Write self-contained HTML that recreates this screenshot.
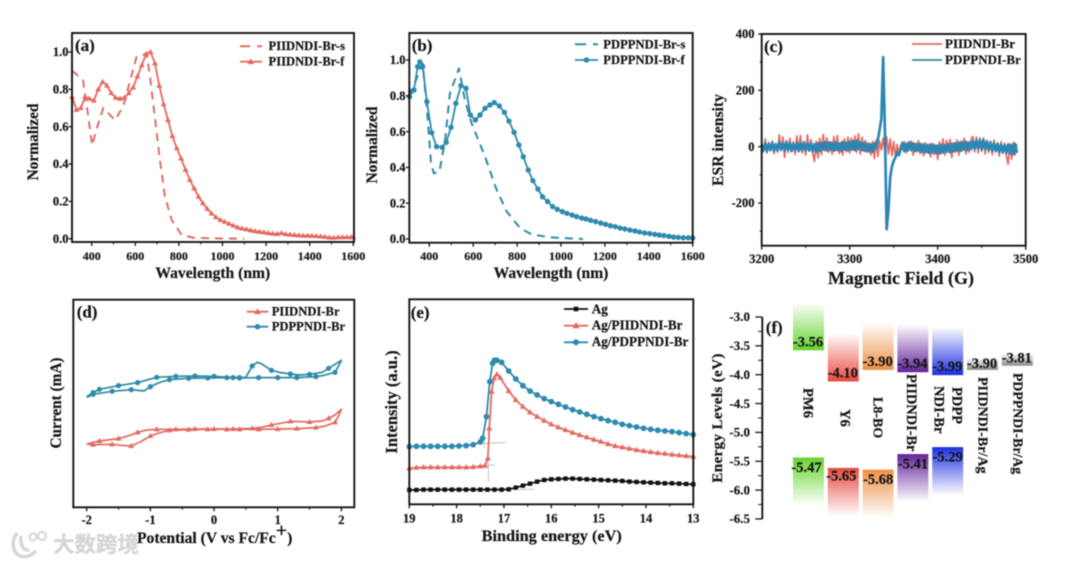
<!DOCTYPE html>
<html lang="en">
<head>
<meta charset="utf-8">
<title>Polymer characterization panels</title>
<style>
html,body{margin:0;padding:0;background:#fff;}
svg{display:block;filter:blur(0.5px);}
text{font-family:"Liberation Serif","Noto Serif CJK SC",serif;font-weight:bold;fill:#161616;stroke:#161616;stroke-width:0.2;}
.wm{font-family:"Liberation Sans","Noto Sans CJK SC",sans-serif;font-weight:bold;fill:#d6d6d6;stroke:#d6d6d6;stroke-width:0.4;}
</style>
</head>
<body>
<svg id="figure" xmlns="http://www.w3.org/2000/svg" width="1080" height="566" viewBox="0 0 1080 566">
<defs>
<linearGradient id="up-green" x1="0" y1="1" x2="0" y2="0"><stop offset="0" stop-color="#66d42e"/><stop offset="1" stop-color="#66d42e" stop-opacity="0"/></linearGradient>
<linearGradient id="up-red" x1="0" y1="1" x2="0" y2="0"><stop offset="0" stop-color="#e8493f"/><stop offset="1" stop-color="#e8493f" stop-opacity="0"/></linearGradient>
<linearGradient id="up-orange" x1="0" y1="1" x2="0" y2="0"><stop offset="0" stop-color="#ee9147"/><stop offset="1" stop-color="#ee9147" stop-opacity="0"/></linearGradient>
<linearGradient id="up-purple" x1="0" y1="1" x2="0" y2="0"><stop offset="0" stop-color="#63229a"/><stop offset="1" stop-color="#63229a" stop-opacity="0"/></linearGradient>
<linearGradient id="up-blue" x1="0" y1="1" x2="0" y2="0"><stop offset="0" stop-color="#1c2fe0"/><stop offset="1" stop-color="#1c2fe0" stop-opacity="0"/></linearGradient>
<linearGradient id="up-gray" x1="0" y1="1" x2="0" y2="0"><stop offset="0" stop-color="#8a8a8a"/><stop offset="1" stop-color="#8a8a8a" stop-opacity="0"/></linearGradient>
<linearGradient id="down-green" x1="0" y1="0" x2="0" y2="1"><stop offset="0" stop-color="#66d42e"/><stop offset="1" stop-color="#66d42e" stop-opacity="0"/></linearGradient>
<linearGradient id="down-red" x1="0" y1="0" x2="0" y2="1"><stop offset="0" stop-color="#e8493f"/><stop offset="1" stop-color="#e8493f" stop-opacity="0"/></linearGradient>
<linearGradient id="down-orange" x1="0" y1="0" x2="0" y2="1"><stop offset="0" stop-color="#ee9147"/><stop offset="1" stop-color="#ee9147" stop-opacity="0"/></linearGradient>
<linearGradient id="down-purple" x1="0" y1="0" x2="0" y2="1"><stop offset="0" stop-color="#63229a"/><stop offset="1" stop-color="#63229a" stop-opacity="0"/></linearGradient>
<linearGradient id="down-blue" x1="0" y1="0" x2="0" y2="1"><stop offset="0" stop-color="#1c2fe0"/><stop offset="1" stop-color="#1c2fe0" stop-opacity="0"/></linearGradient>
</defs>

<g id="marks"></g>

<g fill="none" stroke="#151515" stroke-width="1.9">
  <rect x="72" y="33" width="282" height="209"/>
  <rect x="409.3" y="33" width="283.4" height="209.7"/>
  <rect x="761.7" y="34" width="264" height="211.7"/>
  <rect x="73.3" y="299.7" width="281" height="207.6"/>
  <rect x="409.3" y="299.3" width="284" height="205"/>
</g>

<g font-size="17">
  <text x="75" y="51">(a)</text>
  <text x="411.7" y="51">(b)</text>
  <text x="764" y="52">(c)</text>
  <text x="76.7" y="317.7">(d)</text>
  <text x="410.7" y="318">(e)</text>
  <text x="765.7" y="333">(f)</text>
</g>

<g>
  <text x="212.8" y="278" font-size="15.6" text-anchor="middle">Wavelength (nm)</text>
  <text transform="translate(38,142) rotate(-90)" font-size="15.4" text-anchor="middle">Normalized</text>
  <text x="551" y="278" font-size="15.6" text-anchor="middle">Wavelength (nm)</text>
  <text transform="translate(377,145) rotate(-90)" font-size="15.4" text-anchor="middle">Normalized</text>
  <text x="901" y="284" font-size="18" text-anchor="middle">Magnetic Field (G)</text>
  <text transform="translate(723,140) rotate(-90)" font-size="15.7" text-anchor="middle">ESR intensity</text>
  <text x="137" y="543" font-size="15.6">Potential (V vs Fc/Fc<tspan font-size="20" dy="-6">+</tspan><tspan dy="6">)</tspan></text>
  <text transform="translate(61,403) rotate(-90)" font-size="15.3" text-anchor="middle">Current (mA)</text>
  <text x="551.7" y="541" font-size="16.3" text-anchor="middle">Binding energy (eV)</text>
  <text transform="translate(397,402) rotate(-90)" font-size="16.5" text-anchor="middle">Intensity (a.u.)</text>
  <text transform="translate(722,418) rotate(-90)" font-size="15.2" letter-spacing="0.3" text-anchor="middle">Energy Levels (eV)</text>
</g>

<g font-size="12.6">
  <path d="M240 46.3H250M257 46.3H262" stroke="#dc6f69" stroke-width="2" fill="none"/>
  <text x="268.5" y="50">PIIDNDI-Br-s</text>
  <line x1="240" y1="61.7" x2="262" y2="61.7" stroke="#e46a60" stroke-width="1.8"/>
  <path d="M250.7 58.2l3.4 5.9h-6.8z" fill="#e46a60"/>
  <text x="268.5" y="65.7">PIIDNDI-Br-f</text>
</g>
<g font-size="12.6">
  <path d="M575 44.3H586M593 44.3H598" stroke="#2f8aa6" stroke-width="2" fill="none"/>
  <text x="603.3" y="48.3">PDPPNDI-Br-s</text>
  <line x1="575" y1="60" x2="598" y2="60" stroke="#2f8ab0" stroke-width="1.8"/>
  <circle cx="586.5" cy="60" r="2.8" fill="#2f8ab0"/>
  <text x="603.3" y="63.8">PDPPNDI-Br-f</text>
</g>
<g font-size="13">
  <line x1="912" y1="44" x2="942" y2="44" stroke="#e46a60" stroke-width="1.8"/>
  <text x="945" y="48">PIIDNDI-Br</text>
  <line x1="912" y1="60" x2="942" y2="60" stroke="#2f8aa6" stroke-width="1.8"/>
  <text x="945" y="64">PDPPNDI-Br</text>
</g>
<g font-size="12.6">
  <line x1="246.7" y1="311.7" x2="268.3" y2="311.7" stroke="#e46a60" stroke-width="1.8"/>
  <path d="M257.5 308.2l3.4 5.9h-6.8z" fill="#e46a60"/>
  <text x="271.7" y="315.5">PIIDNDI-Br</text>
  <line x1="246.7" y1="326.7" x2="268.3" y2="326.7" stroke="#2f8ab0" stroke-width="1.8"/>
  <circle cx="257.5" cy="326.7" r="2.7" fill="#2f8ab0"/>
  <text x="271.7" y="330.5">PDPPNDI-Br</text>
</g>
<g font-size="13.2">
  <line x1="564" y1="309" x2="588" y2="309" stroke="#111" stroke-width="1.8"/>
  <rect x="573.7" y="306.7" width="4.6" height="4.6" fill="#111"/>
  <text x="591.7" y="313.3">Ag</text>
  <line x1="564" y1="325.7" x2="588" y2="325.7" stroke="#e46a60" stroke-width="1.8"/>
  <path d="M576 322l3.6 6.2h-7.2z" fill="#e46a60"/>
  <text x="591.7" y="329.5">Ag/PIIDNDI-Br</text>
  <line x1="564" y1="342.3" x2="588" y2="342.3" stroke="#2f8ab0" stroke-width="1.8"/>
  <circle cx="576" cy="342.3" r="3" fill="#2f8ab0"/>
  <text x="591.7" y="346">Ag/PDPPNDI-Br</text>
</g>

<g stroke="#9a9a9a" stroke-width="0.7" fill="none" opacity="0.8">
  <line x1="483" y1="443.5" x2="506" y2="442.5"/>
  <line x1="484" y1="438" x2="484.5" y2="448"/>
  <line x1="485" y1="465.5" x2="495" y2="465"/>
  <line x1="488" y1="447" x2="488.5" y2="482"/>
  <line x1="517" y1="489.5" x2="534" y2="489.5"/>
</g>

<g>
  <path d="M17 533C11 541 12 552 20 556C26 558 32 555 36 551M21 536C20 544 23 551 29 550" fill="none" stroke="#d8d8d8" stroke-width="3.6"/>
  <circle cx="33" cy="537" r="3.5" fill="none" stroke="#d8d8d8" stroke-width="2.2"/>
  <circle cx="42" cy="536" r="4" fill="none" stroke="#d8d8d8" stroke-width="2.2"/>
  <text class="wm" x="53" y="552" font-size="21.5">大数跨境</text>
</g>

<script>
/* ---------- panel (a) ---------- */
const aFilmWavelength = [310,330,350,370,390,410,430,450,470,490,510,530,550,570,590,610,630,650,670,690,710,730,750,770,790,810,830,850,870,890,910,930,950,970,990,1010,1030,1050,1070,1090,1110,1130,1150,1170,1190,1210,1230,1250,1270,1290,1310,1330,1350,1370,1390,1410,1430,1450,1470,1490,1510,1530,1550,1570,1590,1600];
const aFilmNormalized = [0.76,0.69,0.70,0.76,0.75,0.74,0.80,0.84,0.82,0.78,0.755,0.75,0.755,0.78,0.81,0.87,0.93,0.99,1.0,0.94,0.82,0.72,0.635,0.55,0.485,0.43,0.37,0.315,0.27,0.225,0.19,0.16,0.135,0.115,0.10,0.09,0.08,0.07,0.06,0.055,0.05,0.045,0.04,0.037,0.034,0.03,0.027,0.025,0.03,0.024,0.022,0.02,0.018,0.016,0.016,0.015,0.014,0.012,0.01,0.006,0.005,0.007,0.008,0.008,0.008,0.008];
const aSolutionWavelength = [310,360,380,402,423,453,507,545,606,652,667,690,713,736,767,813,867,950,1100];
const aSolutionNormalized = [0.90,0.85,0.69,0.50,0.59,0.70,0.635,0.71,0.975,0.99,0.87,0.65,0.42,0.225,0.10,0.02,0.005,0.002,0];
const aXTicks = [400,600,800,1000,1200,1400,1600];
const aYTicks = [0,0.2,0.4,0.6,0.8,1.0];
const aYTickLabels = ['0.0','0.2','0.4','0.6','0.8','1.0'];

/* ---------- panel (b) ---------- */
const bFilmWavelength = [310,316,330,347,357,370,389,411,433,459,477,499,521,544,567,587,610,631,654,676,696,719,742,763,786,808,828,851,872,895,916,939,962,983,1006,1027,1050,1071,1094,1114,1135,1158,1181,1203,1225,1247,1269,1291,1314,1337,1358,1381,1404,1427,1448,1469,1492,1513,1534,1557,1580,1600];
const bFilmNormalized = [0.795,0.823,0.832,0.963,0.99,0.963,0.767,0.594,0.516,0.512,0.54,0.624,0.758,0.857,0.842,0.693,0.665,0.693,0.73,0.749,0.762,0.743,0.708,0.659,0.596,0.525,0.46,0.385,0.326,0.279,0.236,0.209,0.181,0.166,0.153,0.143,0.134,0.125,0.117,0.112,0.104,0.097,0.089,0.082,0.074,0.069,0.061,0.056,0.05,0.045,0.039,0.034,0.03,0.026,0.022,0.019,0.015,0.011,0.009,0.007,0.007,0.006];
const bSolutionWavelength = [310,370,391,408,421,446,472,494,535,562,593,654,707,753,814,866,950,1100];
const bSolutionNormalized = [0.80,0.98,0.70,0.42,0.367,0.376,0.553,0.814,0.953,0.777,0.646,0.46,0.274,0.153,0.06,0.026,0.009,0];
const bXTicks = [400,600,800,1000,1200,1400,1600];
const bYTicks = [0,0.2,0.4,0.6,0.8,1.0];
const bYTickLabels = ['0.0','0.2','0.4','0.6','0.8','1.0'];

/* ---------- panel (c): both traces sampled every 2 G from 3200 G ---------- */
const cFieldStart = 3200;
const cFieldStep = 2;
const cPiidndi = [
12,-18,28,-22,16,-14,20,-25,10,-20,
42,-15,35,-38,22,-20,30,-12,18,-28,
38,-18,40,-22,15,-30,42,-16,25,-24,
-52,20,-40,30,-28,44,-15,32,-20,18,
-26,36,-14,40,-24,16,-30,28,-18,34,
-22,30,-12,38,-20,46,-26,34,-16,22,
-20,14,-30,18,-42,24,-35,20,-12,30,
-15,35,-25,28,-32,18,-38,8,-28,5,
-10,18,-22,16,-8,20,-30,12,-18,22,
-25,10,-32,14,-20,8,-36,12,-28,6,
-45,18,-24,28,-30,22,-16,26,-38,14,
-20,24,-30,20,-14,30,-26,16,-20,28,
36,-18,34,-22,32,-16,30,-26,24,-20,
20,-28,24,-18,14,-34,18,-24,12,-30,
-62,10,-44,16,-30,8];
const cPdppndi = [
8,-14,12,-16,10,-12,14,-15,9,-13,
15,-10,12,-14,16,-11,13,-16,10,-12,
14,-15,11,-13,16,-12,10,-14,13,-17,
9,-18,12,-15,14,-10,16,-13,15,-11,
13,-14,16,-12,11,-15,17,-10,14,-13,
18,-10,20,-12,22,-8,16,-12,14,-15,
10,-16,8,-18,12,-6,25,60,100,318,
60,-293,-225,-110,-70,-50,-38,-20,-30,-8,
14,-16,10,-14,15,-12,12,-16,9,-14,
10,-18,8,-20,6,-22,8,-20,5,-22,
4,-24,7,-20,6,-18,9,-20,10,-16,
12,-14,14,-15,16,-10,18,-12,15,-8,
20,-8,24,-6,22,-10,25,-8,18,-12,
15,-14,12,-16,10,-18,8,-20,6,-22,
8,-24,6,-26,10,-22];
const cXTicks = [3200,3300,3400,3500];
const cYTicks = [-200,0,200,400];

/* ---------- panel (d) ---------- */
const dPdppndiPotential = [-2,-1.9,-1.8,-1.5,-1.2,-1.05,-0.9,-0.6,-0.3,0,0.3,0.4,0.5,0.55,0.6,0.68,0.75,0.9,1.05,1.2,1.35,1.5,1.7,1.8,1.9,2,1.95,1.9,1.75,1.6,1.3,1,0.7,0.4,0.2,-0.1,-0.4,-0.7,-0.85,-1,-1.1,-1.3,-1.6,-1.9,-2];
const dPdppndiCurrent = [3.32,3.44,3.54,3.65,3.74,3.82,3.90,3.93,3.94,3.93,3.89,3.89,3.90,4.07,4.24,4.35,4.30,4.11,4.04,4.00,3.97,3.99,4.05,4.17,4.29,4.41,4.22,4.05,3.97,3.92,3.89,3.89,3.89,3.88,3.89,3.88,3.87,3.83,3.75,3.62,3.49,3.53,3.48,3.39,3.30];
const dPdppndiMarkerIndex = [1,2,3,4,6,7,8,9,10,11,14,17,19,21,23,27,29,30,31,32,33,34,35,36,37,39,41,42,43];
const dPiidndiPotential = [-2,-1.8,-1.5,-1.3,-1.2,-1.05,-0.9,-0.6,-0.3,0,0.3,0.6,0.75,0.9,1.05,1.2,1.5,1.7,1.8,1.9,2,1.95,1.9,1.75,1.6,1.3,1,0.7,0.4,0.2,-0.1,-0.4,-0.7,-0.85,-1,-1.15,-1.3,-1.45,-1.6,-1.9,-2];
const dPiidndiCurrent = [1.90,1.99,2.06,2.17,2.25,2.32,2.34,2.34,2.35,2.35,2.35,2.37,2.40,2.47,2.52,2.58,2.56,2.59,2.67,2.77,2.94,2.72,2.55,2.44,2.39,2.36,2.35,2.34,2.34,2.34,2.34,2.33,2.31,2.24,2.14,1.97,1.84,1.86,1.89,1.88,1.90];
const dPiidndiMarkerIndex = [1,2,4,6,7,8,9,10,11,13,15,16,18,22,24,25,26,27,28,29,30,31,32,34,36,38,39];
const dXTicks = [-2,-1,0,1,2];

/* ---------- panel (e) ---------- */
const eAgEnergy = [19,18.85,18.7,18.55,18.4,18.25,18.1,17.95,17.8,17.65,17.5,17.35,17.2,17.05,16.9,16.75,16.6,16.45,16.3,16.15,16,15.85,15.7,15.55,15.4,15.25,15.1,14.95,14.8,14.65,14.5,14.35,14.2,14.05,13.9,13.75,13.6,13.45,13.3,13.15,13];
const eAgIntensity = [0.43,0.43,0.44,0.44,0.44,0.44,0.44,0.44,0.44,0.44,0.44,0.44,0.44,0.44,0.45,0.50,0.56,0.62,0.68,0.73,0.75,0.76,0.77,0.77,0.76,0.75,0.74,0.73,0.72,0.71,0.70,0.68,0.67,0.66,0.65,0.64,0.63,0.63,0.62,0.61,0.60];
const ePiidndiEnergy = [19,18.85,18.7,18.55,18.4,18.25,18.1,17.95,17.8,17.65,17.5,17.4,17.34,17.31,17.26,17.21,17.15,17.08,16.9,16.75,16.6,16.45,16.3,16.15,16,15.85,15.7,15.55,15.4,15.25,15.1,14.95,14.8,14.65,14.5,14.35,14.2,14.05,13.9,13.75,13.6,13.45,13.3,13.15,13];
const ePiidndiIntensity = [1.08,1.10,1.11,1.11,1.11,1.11,1.11,1.11,1.11,1.12,1.14,1.16,1.38,2.28,3.38,3.78,3.90,3.80,3.40,3.13,2.93,2.76,2.63,2.51,2.40,2.31,2.23,2.15,2.08,2.01,1.94,1.88,1.81,1.75,1.71,1.67,1.63,1.60,1.57,1.54,1.52,1.49,1.47,1.45,1.43];
const ePdppndiEnergy = [19,18.85,18.7,18.55,18.4,18.25,18.1,17.95,17.8,17.65,17.5,17.45,17.37,17.3,17.24,17.2,17.15,17.05,16.9,16.75,16.6,16.45,16.3,16.15,16,15.85,15.7,15.55,15.4,15.25,15.1,14.95,14.8,14.65,14.5,14.35,14.2,14.05,13.9,13.75,13.6,13.45,13.3,13.15,13];
const ePdppndiIntensity = [1.73,1.74,1.74,1.74,1.74,1.74,1.74,1.75,1.76,1.79,1.87,1.98,2.63,3.68,4.23,4.32,4.32,4.26,4.00,3.76,3.56,3.40,3.28,3.17,3.08,3.00,2.92,2.84,2.77,2.70,2.63,2.57,2.51,2.46,2.40,2.36,2.32,2.28,2.25,2.22,2.20,2.18,2.15,2.12,2.09];
const eXTicks = [19,18,17,16,15,14,13];

/* ---------- panel (f) ---------- */
const fLumoMaterials = ['PM6','Y6','L8-BO','PIIDNDI-Br','PDPPNDI-Br','PIIDNDI-Br/Ag','PDPPNDI-Br/Ag'];
const fLumoLevels = [-3.56,-4.10,-3.90,-3.94,-3.99,-3.90,-3.81];
const fHomoMaterials = ['PM6','Y6','L8-BO','PIIDNDI-Br','PDPPNDI-Br'];
const fHomoLevels = [-5.47,-5.65,-5.68,-5.41,-5.29];
const fYTicks = [-3.0,-3.5,-4.0,-4.5,-5.0,-5.5,-6.0,-6.5];
const fColorNames = ['green','red','orange','purple','blue','gray','gray'];

/* ---------- axis functions ---------- */
const aX = v => 91.7 + (v - 400) * 0.218;
const aY = v => 238.7 - v * 186.7;
const bX = v => 429.3 + (v - 400) * 0.2195;
const bY = v => 239 - v * 179;
const cX = v => 761.7 + (v - 3200) * 0.88;
const cY = v => 146.7 - v * 0.2817;
const dX = v => 86.7 + (v + 2) * 63.67;
const dY = v => 507.3 - v * 33.33;
const eX = v => 409.3 + (19 - v) * 47.33;
const eY = v => 504.3 - v * 33.33;
const fY = v => 317 + (-3 - v) * 57.7;
const fBand = i => 793 + i * 34.8;
const fBandWidth = 31;
const fFadeHeight = 48;

const SVGNS = 'http://www.w3.org/2000/svg';
const root = document.getElementById('marks');
const RED = '#e46a60', BLUE = '#2f8ab0', DASH_RED = '#dc6f69', DASH_BLUE = '#2f8aa6';

function make(tag, attrs) {
  const el = document.createElementNS(SVGNS, tag);
  for (const k in attrs) el.setAttribute(k, attrs[k]);
  root.appendChild(el);
  return el;
}
function pathOf(xs, ys, sx, sy) {
  return xs.map((x, i) => (i ? 'L' : 'M') + sx(x).toFixed(2) + ' ' + sy(ys[i]).toFixed(2)).join('');
}
function drawLine(xs, ys, sx, sy, color, width, dash, name) {
  const el = make('path', {d: pathOf(xs, ys, sx, sy), fill: 'none', stroke: color, 'stroke-width': width, 'stroke-linejoin': 'round'});
  if (dash) el.setAttribute('stroke-dasharray', dash);
  
  
}
function drawMarker(kind, x, y, r, color, name) {
  let el;
  if (kind === 'circle') {
    el = make('circle', {cx: x, cy: y, r: r, fill: color});
  } else if (kind === 'square') {
    el = make('rect', {x: x - r, y: y - r, width: 2 * r, height: 2 * r, fill: color});
  } else {
    el = make('path', {d: 'M' + x + ' ' + (y - r * 1.15) + 'l' + r * 1.1 + ' ' + r * 1.9 + 'h' + (-r * 2.2) + 'z', fill: color});
  }
  
  
}
function drawMarkers(xs, ys, sx, sy, kind, r, color, name) {
  xs.forEach((x, i) => drawMarker(kind, sx(x), sy(ys[i]), r, color, name));
}
function drawXAxis(ticks, labels, minors, sx, yAxis, yLabel, size) {
  ticks.forEach((t, i) => {
    const tick = make('line', {x1: sx(t), x2: sx(t), y1: yAxis, y2: yAxis + 4, stroke: '#151515', 'stroke-width': 1.3});
    
    
    const label = make('text', {x: sx(t), y: yLabel, 'font-size': size, 'text-anchor': 'middle'});
    label.textContent = labels ? labels[i] : String(t);
    
    
  });
  minors.forEach(t => {
    const tick = make('line', {x1: sx(t), x2: sx(t), y1: yAxis, y2: yAxis + 2.5, stroke: '#151515', 'stroke-width': 1});
    
    
  });
}
function drawYAxis(ticks, labels, minors, sy, xAxis, xLabel, size, len) {
  ticks.forEach((t, i) => {
    const tick = make('line', {x1: xAxis - len, x2: xAxis, y1: sy(t), y2: sy(t), stroke: '#151515', 'stroke-width': 1.3});
    
    
    const label = make('text', {x: xLabel, y: sy(t) + 4.2, 'font-size': size, 'text-anchor': 'end'});
    label.textContent = labels ? labels[i] : String(t);
    
    
  });
  minors.forEach(t => {
    const tick = make('line', {x1: xAxis - len * 0.6, x2: xAxis, y1: sy(t), y2: sy(t), stroke: '#151515', 'stroke-width': 1});
    
    
  });
}

/* panel a */
drawLine(aSolutionWavelength, aSolutionNormalized, aX, aY, DASH_RED, 2, '8 6', 'piidndi-solution-line');
drawLine(aFilmWavelength, aFilmNormalized, aX, aY, RED, 1.8, null, 'piidndi-film-line');
drawMarkers(aFilmWavelength, aFilmNormalized, aX, aY, 'triangle', 2.7, RED, 'piidndi-film-point');
drawXAxis(aXTicks, null, [500,700,900,1100,1300,1500], aX, 242, 260, 12);
drawYAxis(aYTicks, aYTickLabels, [], aY, 72, 68.5, 12.5, 3.5);

/* panel b */
drawLine(bSolutionWavelength, bSolutionNormalized, bX, bY, DASH_BLUE, 2, '8 6', 'pdppndi-solution-line');
drawLine(bFilmWavelength, bFilmNormalized, bX, bY, BLUE, 1.8, null, 'pdppndi-film-line');
drawMarkers(bFilmWavelength, bFilmNormalized, bX, bY, 'circle', 2.7, BLUE, 'pdppndi-film-point');
drawXAxis(bXTicks, null, [500,700,900,1100,1300,1500], bX, 242.7, 260, 12);
drawYAxis(bYTicks, bYTickLabels, [], bY, 409.3, 405.5, 12.5, 3.5);

/* panel c */
const cField = cPiidndi.map((_, i) => cFieldStart + i * cFieldStep);
drawLine(cField, cPiidndi, cX, cY, RED, 1.7, null, 'esr-piidndi-trace');
drawLine(cField, cPdppndi, cX, cY, '#2b86b4', 2.7, null, 'esr-pdppndi-trace');
drawXAxis(cXTicks, null, [3250,3350,3450], cX, 245.7, 263, 12.5);
drawYAxis(cYTicks, null, [-300,-100,100,300], cY, 761.7, 754.5, 12.5, 3.5);

/* panel d */
drawLine(dPdppndiPotential, dPdppndiCurrent, dX, dY, '#2f8aa0', 1.7, null, 'cv-pdppndi-loop');
dPdppndiMarkerIndex.forEach(i => drawMarker('circle', dX(dPdppndiPotential[i]), dY(dPdppndiCurrent[i]), 2.6, BLUE, 'cv-pdppndi-point'));
drawLine(dPiidndiPotential, dPiidndiCurrent, dX, dY, RED, 1.7, null, 'cv-piidndi-loop');
dPiidndiMarkerIndex.forEach(i => drawMarker('triangle', dX(dPiidndiPotential[i]), dY(dPiidndiCurrent[i]), 2.7, RED, 'cv-piidndi-point'));
drawXAxis(dXTicks, null, [-1.5,-0.5,0.5,1.5], dX, 507.3, 524, 12.5);

/* panel e */
drawLine(eAgEnergy, eAgIntensity, eX, eY, '#111', 1.7, null, 'ups-ag-line');
drawMarkers(eAgEnergy, eAgIntensity, eX, eY, 'square', 2.2, '#111', 'ups-ag-point');
drawLine(ePiidndiEnergy, ePiidndiIntensity, eX, eY, RED, 1.8, null, 'ups-piidndi-line');
drawMarkers(ePiidndiEnergy, ePiidndiIntensity, eX, eY, 'triangle', 2.8, RED, 'ups-piidndi-point');
drawLine(ePdppndiEnergy, ePdppndiIntensity, eX, eY, BLUE, 1.8, null, 'ups-pdppndi-line');
drawMarkers(ePdppndiEnergy, ePdppndiIntensity, eX, eY, 'circle', 2.9, BLUE, 'ups-pdppndi-point');
drawXAxis(eXTicks, null, [18.5,17.5,16.5,15.5,14.5,13.5], eX, 504.3, 522.7, 12.5);

/* panel f */
const fAxis = make('line', {x1: 762.3, x2: 762.3, y1: fY(-3), y2: fY(-6.5), stroke: '#151515', 'stroke-width': 1.9});


drawYAxis(fYTicks, fYTicks.map(v => v.toFixed(1)), [-3.25,-3.75,-4.25,-4.75,-5.25,-5.75,-6.25], fY, 762.3, 750, 13, 7);

fLumoLevels.forEach((level, i) => {
  const isGray = fColorNames[i] === 'gray';
  const bottom = fY(level) + (i === 6 ? 2 : 1);
  const height = isGray ? 12.5 : fFadeHeight;
  const bar = make('rect', {x: fBand(i), y: bottom - height, width: fBandWidth, height: height, fill: 'url(#up-' + fColorNames[i] + ')'});
  
  
});
fHomoLevels.forEach((level, i) => {
  const bar = make('rect', {x: fBand(i), y: fY(level) - 2, width: fBandWidth, height: fFadeHeight, fill: 'url(#down-' + fColorNames[i] + ')'});
  
  
});
fLumoLevels.forEach((level, i) => {
  const label = make('text', {x: fBand(i) + fBandWidth / 2 - 0.5, y: fY(level) - (i >= 5 ? 1 : 3), 'font-size': 14.5, 'text-anchor': 'middle'});
  label.textContent = level.toFixed(2);
  
  
});
fHomoLevels.forEach((level, i) => {
  const label = make('text', {x: fBand(i) + fBandWidth / 2 - (i < 2 ? 2 : 0), y: fY(level) + (i === 1 ? 10.5 : 12.5), 'font-size': 14.5, 'text-anchor': 'middle'});
  label.textContent = level.toFixed(2);
  
  
});
</script>

<g>
  <text font-size="14.6" transform="translate(803.5,388) rotate(90)">PM6</text>
  <text font-size="14.6" transform="translate(840.5,409) rotate(90)">Y6</text>
  <text font-size="14" transform="translate(873.5,397) rotate(90)">L8-BO</text>
  <text font-size="14.4" transform="translate(907,374) rotate(90)">PIIDNDI-Br</text>
  <text font-size="14.5" transform="translate(952.5,387) rotate(90)">PDPP</text>
  <text font-size="14.5" transform="translate(934.5,386) rotate(90)">NDI-Br</text>
  <text font-size="14" transform="translate(978.5,377) rotate(90)">PIIDNDI-Br/Ag</text>
  <text font-size="13.8" transform="translate(1013.5,373) rotate(90)">PDPPNDI-Br/Ag</text>
</g>
</svg>
</body>
</html>
